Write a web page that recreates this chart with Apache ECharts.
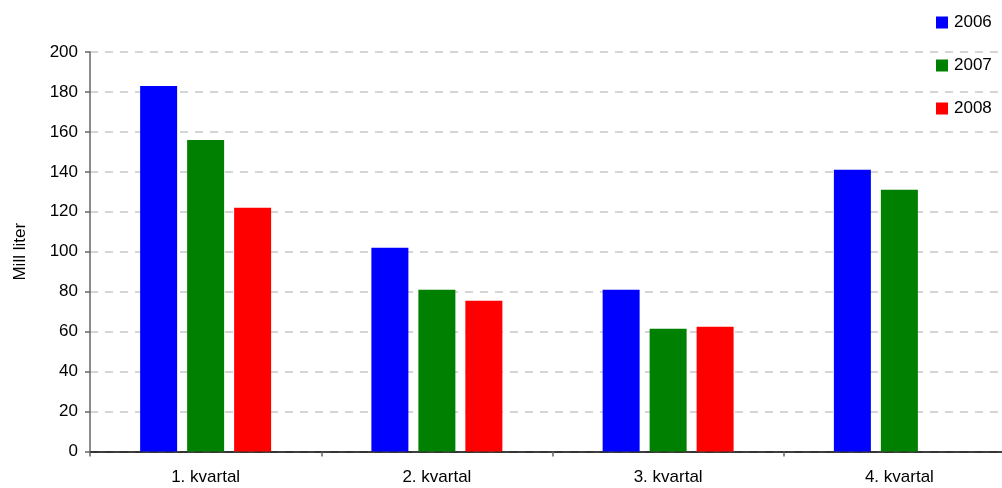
<!DOCTYPE html>
<html>
<head>
<meta charset="utf-8">
<script src="https://cdn.jsdelivr.net/npm/echarts@6/dist/echarts.min.js"></script>
<style>
  html, body { margin: 0; padding: 0; background: #fff; }
  #chart { width: 1002px; height: 488px; }
</style>
</head>
<body>
<div id="chart"></div>
<script>
// Quarterly volumes, million litres
const categories = ['1. kvartal', '2. kvartal', '3. kvartal', '4. kvartal'];
const years = ['2006', '2007', '2008'];
const values2006 = [183, 102, 81, 141];
const values2007 = [156, 81, 61.5, 131];
const values2008 = [122, 75.5, 62.5, null];
const colors = ['#0000ff', '#008000', '#ff0000'];
const yTicks = { min: 0, max: 200, interval: 20 };

const font = 'Liberation Sans, Arial, sans-serif';
const seriesValues = [values2006, values2007, values2008];

const chart = echarts.init(document.getElementById('chart'));
chart.setOption({
  animation: false,
  textStyle: { fontFamily: font },
  grid: {
    left: 90, top: 52, bottom: 36.5, right: -13,
    containLabel: false,
    outerBoundsMode: 'none'
  },
  legend: {
    orient: 'vertical',
    left: 931,
    top: 9,
    itemWidth: 12,
    itemHeight: 12,
    itemGap: 26,
    icon: 'rect',
    textStyle: { fontFamily: font, fontSize: 17, color: '#000', padding: [0, 0, 0, 1] },
    data: years
  },
  xAxis: {
    type: 'category',
    data: categories,
    axisLine: { lineStyle: { color: '#000', width: 1.5 } },
    axisTick: { show: true, length: 5, lineStyle: { color: '#666', width: 1.5 } },
    axisLabel: { color: '#000', fontSize: 17, margin: 17, fontFamily: font },
    splitLine: { show: false }
  },
  yAxis: {
    type: 'value',
    min: yTicks.min,
    max: yTicks.max,
    interval: yTicks.interval,
    name: 'Mill liter',
    nameLocation: 'middle',
    nameRotate: 90,
    nameGap: 61,
    nameTextStyle: { color: '#000', fontSize: 17, fontFamily: font },
    axisLine: { show: true, lineStyle: { color: '#666', width: 1.5 } },
    axisTick: { show: true, length: 5, lineStyle: { color: '#666', width: 1.5 } },
    axisLabel: { color: '#000', fontSize: 17, margin: 12, fontFamily: font },
    splitLine: { show: true, lineStyle: { color: '#c8c8c8', width: 1.5, type: [8, 7] } }
  },
  series: years.map((y, i) => ({
    name: y,
    type: 'bar',
    data: seriesValues[i],
    barWidth: 37,
    barGap: '27%',
    itemStyle: { color: colors[i] }
  }))
});
</script>
</body>
</html>
